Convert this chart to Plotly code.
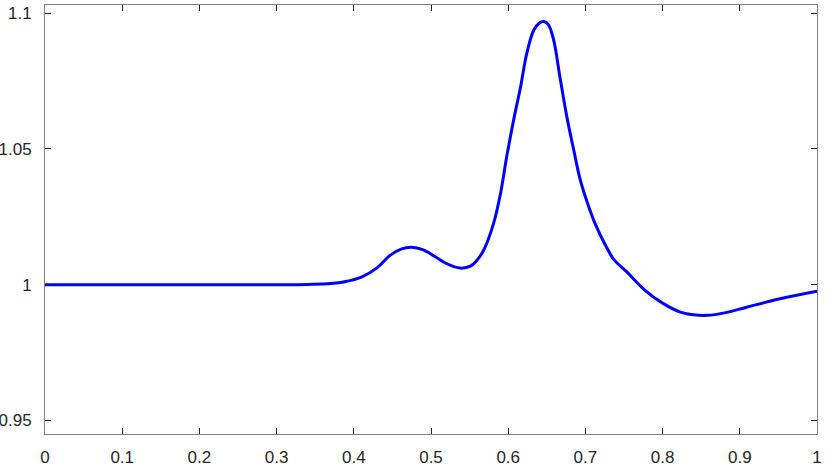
import plotly.graph_objects as go

# courbe
x_vals = [0, 0.1, 0.2, 0.3, 0.34, 0.37, 0.39, 0.41, 0.43, 0.447, 0.462, 0.475,
          0.49, 0.505, 0.52, 0.538, 0.551, 0.559, 0.568, 0.581, 0.59, 0.598,
          0.607, 0.616, 0.624, 0.633, 0.64, 0.646, 0.652, 0.659, 0.667, 0.676,
          0.685, 0.693, 0.704, 0.713, 0.726, 0.737, 0.754, 0.776, 0.8, 0.823,
          0.84, 0.858, 0.88, 0.909, 0.952, 1.0]
y_vals = [1, 1, 1, 1, 1.0001, 1.0004, 1.0012, 1.0028, 1.0062, 1.0108, 1.0132, 1.0138,
          1.0128, 1.0104, 1.0078, 1.0061, 1.0068, 1.0088, 1.0126, 1.0225, 1.0335, 1.0470,
          1.0606, 1.0728, 1.0851, 1.0937, 1.0963, 1.0969, 1.0958, 1.0900, 1.0765, 1.0618,
          1.0495, 1.0390, 1.0290, 1.0222, 1.0145, 1.0092, 1.0046, 0.9982, 0.9932, 0.9899,
          0.9889, 0.9887, 0.9896, 0.9917, 0.9948, 0.9976]

x_ticks = [0, 0.1, 0.2, 0.3, 0.4, 0.5, 0.6, 0.7, 0.8, 0.9, 1]
x_labels = ['0', '0.1', '0.2', '0.3', '0.4', '0.5', '0.6', '0.7', '0.8', '0.9', '1']
y_ticks = [0.95, 1.0, 1.05, 1.1]
y_labels = ['0.95', '1', '1.05', '1.1']

fig = go.Figure(go.Scatter(
    x=x_vals,
    y=y_vals,
    mode='lines',
    line=dict(color='#0000ff', width=3, shape='spline', smoothing=1.0),
    showlegend=False
))

axis_style = dict(
    showline=True,
    linecolor='#808080',
    linewidth=1,
    mirror='allticks',
    ticks='inside',
    ticklen=6,
    tickcolor='#262626',
    tickwidth=1,
    showgrid=False,
    zeroline=False,
    automargin=False,
    tickfont=dict(family='Liberation Sans, Arial', size=17, color='#262626'),
)

fig.update_xaxes(range=[0, 1.00001], tickvals=x_ticks, ticktext=x_labels,
                 ticklabelstandoff=8, **axis_style)
fig.update_yaxes(range=[0.945, 1.103], tickvals=y_ticks, ticktext=y_labels,
                 ticklabelstandoff=9, **axis_style)

fig.update_layout(
    width=830,
    height=467,
    margin=dict(l=45, r=13, t=5, b=33),
    paper_bgcolor='white',
    plot_bgcolor='white',
)

# enlève la marge par défaut du <body> pour que la figure colle au coin
fig.write_html("out.html", config={'displayModeBar': False},
               post_script="document.body.style.margin='0';")
